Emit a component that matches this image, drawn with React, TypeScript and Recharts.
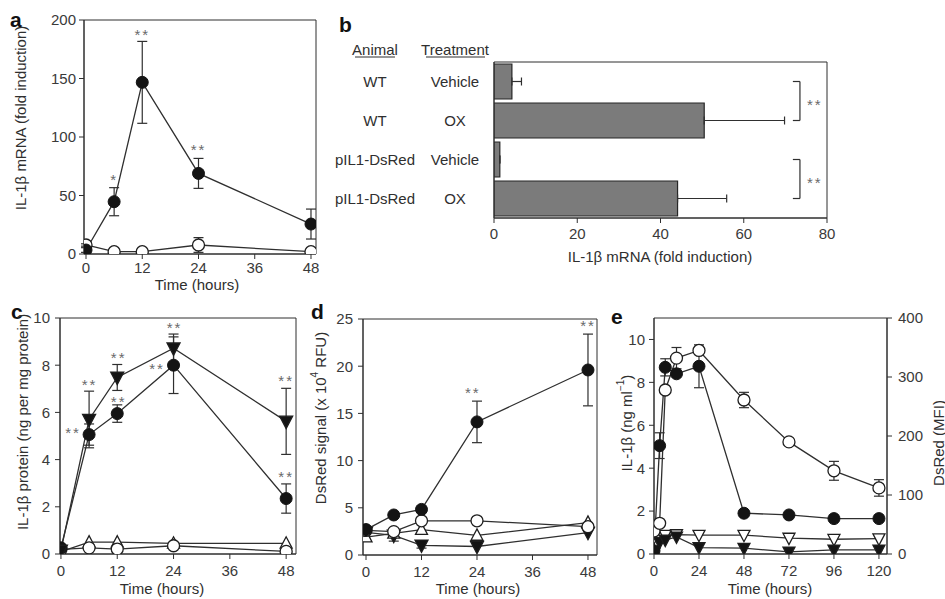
import React from "react";
import {
  ComposedChart,
  BarChart,
  Bar,
  Line,
  XAxis,
  YAxis,
  ErrorBar,
  ReferenceArea,
  ReferenceLine,
} from "recharts";

const FONT = "'Liberation Sans', Arial, Helvetica, sans-serif";
const INK = "#2f2f2f";
const TICK_INK = "#3a3a3a";
const STAR_INK = "#6a6a6a";

// ---------- a: IL-1β mRNA after OX (fold induction) ----------
const hoursA = [0, 6, 12, 24, 48];
const aOxMean = [3.4, 44.7, 146.7, 68.9, 25.6];
const aOxErr = [2, 12, 35, 12.8, 12.8];
const aVehMean = [7.7, 2, 2, 7.7, 2];
const aVehErr = [1, 0.5, 0.5, 6.3, 0.5];
const aStarHours = [6, 12, 24];
const aStarValue = [66, 190, 92];
const aStarText = ["*", "**", "**"];
const aTicksY = [0, 50, 100, 150, 200];

// ---------- b: bars ----------
const bAnimal = ["WT", "WT", "pIL1-DsRed", "pIL1-DsRed"];
const bTreatment = ["Vehicle", "OX", "Vehicle", "OX"];
const bMean = [4.3, 50.5, 1.4, 44.1];
const bErr = [2.3, 19.3, 0, 11.8];
const bTicksX = [0, 20, 40, 60, 80];

// ---------- c: IL-1β protein ----------
const hoursC = [0, 6, 12, 24, 48];
const cTriFilled = [0.15, 5.7, 7.48, 8.72, 5.62];
const cTriFilledErr = [0, 1.2, 0.55, 0.6, 1.4];
const cCircFilled = [0.26, 5.06, 5.95, 8.0, 2.35];
const cCircFilledErr = [0, 0.45, 0.37, 1.2, 0.62];
const cTriOpen = [0.1, 0.5, 0.5, 0.45, 0.45];
const cCircOpen = [0.2, 0.26, 0.21, 0.35, 0.11];
const cStarHours = [6.1, 2.6, 12.3, 12.3, 24.2, 20.5, 48, 48];
const cStarValue = [7.33, 5.27, 8.44, 6.61, 9.73, 7.97, 7.47, 3.42];
const cTicksY = [0, 2, 4, 6, 8, 10];

// ---------- d: DsRed signal ----------
const hoursD = [0, 6, 12, 24, 48];
const dCircFilled = [2.69, 4.24, 4.83, 14.1, 19.6];
const dCircFilledErr = [0, 0, 0, 2.2, 3.8];
const dCircOpen = [2.6, 2.48, 3.62, 3.62, 3.0];
const dTriOpen = [1.9, 2.3, 2.69, 2.07, 3.44];
const dTriFilled = [2.4, 2.07, 1.03, 0.9, 2.38];
const dTriFilledErr = [0, 0.6, 0.3, 0, 0];
const dStarHours = [23.1, 48];
const dStarValue = [17.5, 24.6];
const dTicksY = [0, 5, 10, 15, 20, 25];

// ---------- e: IL-1β (left) and DsRed MFI (right) ----------
const hoursE = [0, 3, 6, 12, 24, 48, 72, 96, 120];
const eIl1b = [0.15, 5.05, 8.7, 8.4, 8.75, 1.9, 1.82, 1.65, 1.65];
const eIl1bErr = [0, 0.6, 0.4, 0, 1.0, 0, 0, 0, 0];
const eIl1bCtrl = [0.05, 0.55, 0.65, 0.8, 0.3, 0.27, 0.1, 0.19, 0.19];
const eDsRed = [39, 52, 278, 332, 345, 261, 190, 141, 112];
const eDsRedErr = [0, 0, 0, 18, 0, 13, 0, 16, 14];
const eDsRedCtrl = [28, 30, 32, 33, 32, 32, 27, 25, 26];
const eTicksX = [0, 24, 48, 72, 96, 120];
const eTicksLeft = [0, 2, 4, 6, 8, 10];
const eTicksRight = [0, 100, 200, 300, 400];

const hourTicks = [0, 12, 24, 36, 48];

const tableA = hoursA.map((t, i) => ({ t, ox: aOxMean[i], oxErr: aOxErr[i], veh: aVehMean[i], vehErr: aVehErr[i] }));
const starsA = aStarHours.map((t, i) => ({ t, v: aStarValue[i], text: aStarText[i] }));

const tableB = bAnimal.map((a, i) => ({
  key: `${a}-${bTreatment[i]}`,
  mean: bMean[i],
  err: [0, bErr[i]],
}));

const tableC = hoursC.map((t, i) => ({
  t,
  triF: cTriFilled[i],
  triFErr: cTriFilledErr[i],
  circF: cCircFilled[i],
  circFErr: cCircFilledErr[i],
  triO: cTriOpen[i],
  circO: cCircOpen[i],
}));
const starsC = cStarHours.map((t, i) => ({ t, v: cStarValue[i], text: "**" }));

const tableD = hoursD.map((t, i) => ({
  t,
  circF: dCircFilled[i],
  circFErr: dCircFilledErr[i],
  circO: dCircOpen[i],
  triO: dTriOpen[i],
  triF: dTriFilled[i],
  triFErr: dTriFilledErr[i],
}));
const starsD = dStarHours.map((t, i) => ({ t, v: dStarValue[i], text: "**" }));

const tableE = hoursE.map((t, i) => ({
  t,
  il: eIl1b[i],
  ilErr: eIl1bErr[i],
  ilCtrl: eIl1bCtrl[i],
  ds: eDsRed[i],
  dsErr: eDsRedErr[i],
  dsCtrl: eDsRedCtrl[i],
}));

// marker shapes
type Kind = "fc" | "oc" | "ftd" | "otu" | "otd";

function marker(kind: Kind, r = 6) {
  return (p: any) => {
    const { cx, cy, index } = p;
    if (cx == null || cy == null) return <g key={`n${index}`} />;
    const k = `${kind}${index}`;
    if (kind === "fc")
      return <circle key={k} cx={cx} cy={cy} r={r} fill="#141414" stroke="#141414" strokeWidth={1} />;
    if (kind === "oc")
      return <circle key={k} cx={cx} cy={cy} r={r} fill="#fff" stroke="#1e1e1e" strokeWidth={1.3} />;
    const up = kind === "otu";
    const pts = up
      ? `${cx - r},${cy + r * 0.8} ${cx + r},${cy + r * 0.8} ${cx},${cy - r * 1.1}`
      : `${cx - r},${cy - r * 0.8} ${cx + r},${cy - r * 0.8} ${cx},${cy + r * 1.1}`;
    return (
      <polygon
        key={k}
        points={pts}
        fill={kind === "ftd" ? "#141414" : "#fff"}
        stroke="#1e1e1e"
        strokeWidth={1.3}
        strokeLinejoin="miter"
      />
    );
  };
}

function starDot(p: any) {
  const { cx, cy, index, payload } = p;
  if (cx == null || cy == null) return <g key={`s${index}`} />;
  return (
    <text
      key={`s${index}`}
      x={cx}
      y={cy + 8.5}
      textAnchor="middle"
      fontSize={15}
      fill={STAR_INK}
      letterSpacing={2}
      style={{ fontFamily: FONT }}
    >
      {payload.text}
    </text>
  );
}

const lineStyle = { stroke: INK, strokeWidth: 1.3, isAnimationActive: false, activeDot: false as const, type: "linear" as const };
const errStyle = { stroke: INK, strokeWidth: 1.2, width: 5 };
const tickFont = { fontSize: 15, fill: TICK_INK, fontFamily: FONT };

function xAxisProps(domain: number[], ticks: number[], margin: number) {
  return {
    type: "number" as const,
    dataKey: "t",
    domain,
    ticks,
    allowDataOverflow: true,
    height: 30,
    tickSize: 5,
    tickMargin: margin,
    axisLine: { stroke: INK },
    tickLine: { stroke: INK },
    tick: tickFont,
  };
}

function yAxisProps(domain: number[], ticks: number[], margin: number) {
  return {
    type: "number" as const,
    domain,
    ticks,
    allowDataOverflow: true,
    width: 40,
    tickSize: 5,
    tickMargin: margin,
    axisLine: { stroke: INK },
    tickLine: { stroke: INK },
    tick: tickFont,
  };
}

function PanelA() {
  const dom = [-0.43, 49.07];
  return (
    <div style={{ position: "absolute", left: 0, top: 0 }}>
      <ComposedChart width={330} height={300} data={tableA} margin={{ top: 20, right: 14, bottom: 16, left: 44 }}>
        <XAxis {...xAxisProps(dom, hourTicks, 3)} />
        <YAxis {...yAxisProps([0, 200], aTicksY, 3)} />
        <ReferenceArea x1={dom[0]} x2={dom[1]} fill="none" stroke={INK} strokeWidth={1} ifOverflow="visible" />
        <Line dataKey="veh" {...lineStyle} dot={marker("oc")}>
          <ErrorBar dataKey="vehErr" direction="y" {...errStyle} />
        </Line>
        <Line dataKey="ox" {...lineStyle} dot={marker("fc")}>
          <ErrorBar dataKey="oxErr" direction="y" {...errStyle} />
        </Line>
        <Line data={starsA} dataKey="v" stroke="none" dot={starDot} isAnimationActive={false} activeDot={false} />
      </ComposedChart>
    </div>
  );
}

function bTick(p: any) {
  const i = tableB.findIndex((r) => r.key === p.payload.value);
  return (
    <g key={`bt${i}`}>
      <text x={45} y={p.y + 5.5} textAnchor="middle" fontSize={15} fill={INK} style={{ fontFamily: FONT }}>
        {bAnimal[i]}
      </text>
      <text x={125} y={p.y + 5.5} textAnchor="middle" fontSize={15} fill={INK} style={{ fontFamily: FONT }}>
        {bTreatment[i]}
      </text>
    </g>
  );
}

function bracket(top: string, bottom: string) {
  const xv = 73.5;
  const xl = 71.8;
  return [
    <ReferenceLine
      key={`v${top}`}
      segment={[{ x: xv, y: top }, { x: xv, y: bottom }]}
      stroke={INK}
      strokeWidth={1.2}
      ifOverflow="visible"
      label={{ value: "**", position: "right", offset: 7, fill: STAR_INK, fontSize: 15, dy: 4, letterSpacing: 2 }}
    />,
    <ReferenceLine key={`t${top}`} segment={[{ x: xl, y: top }, { x: xv, y: top }]} stroke={INK} strokeWidth={1.2} ifOverflow="visible" />,
    <ReferenceLine key={`b${top}`} segment={[{ x: xl, y: bottom }, { x: xv, y: bottom }]} stroke={INK} strokeWidth={1.2} ifOverflow="visible" />,
  ];
}

function PanelB() {
  return (
    <div style={{ position: "absolute", left: 330, top: 0 }}>
      <BarChart
        width={615}
        height={300}
        data={tableB}
        layout="vertical"
        barCategoryGap={2}
        margin={{ top: 62, right: 118, bottom: 52, left: 0 }}
      >
        <XAxis
          type="number"
          domain={[0, 80]}
          ticks={bTicksX}
          allowDataOverflow
          height={30}
          tickSize={5}
          tickMargin={5}
          axisLine={{ stroke: INK }}
          tickLine={{ stroke: INK }}
          tick={tickFont}
        />
        <YAxis type="category" dataKey="key" width={164} tickLine={false} axisLine={{ stroke: INK }} tick={bTick} />
        <ReferenceArea x1={0} x2={80} fill="none" stroke={INK} strokeWidth={1} ifOverflow="visible" />
        <Bar dataKey="mean" fill="#7b7b7b" stroke="#262626" strokeWidth={1.2} isAnimationActive={false}>
          <ErrorBar dataKey="err" direction="x" stroke={INK} strokeWidth={1.2} width={4} />
        </Bar>
        {bracket(tableB[0].key, tableB[1].key)}
        {bracket(tableB[2].key, tableB[3].key)}
      </BarChart>
    </div>
  );
}

function PanelC() {
  const dom = [-0.2, 50.1];
  return (
    <div style={{ position: "absolute", left: 0, top: 300 }}>
      <ComposedChart width={310} height={299} data={tableC} margin={{ top: 18, right: 14, bottom: 15, left: 20 }}>
        <XAxis {...xAxisProps(dom, hourTicks, 6)} />
        <YAxis {...yAxisProps([0, 10], cTicksY, 5)} />
        <ReferenceArea x1={dom[0]} x2={dom[1]} fill="none" stroke={INK} strokeWidth={1} ifOverflow="visible" />
        <Line dataKey="triO" {...lineStyle} dot={marker("otu")} />
        <Line dataKey="circO" {...lineStyle} dot={marker("oc")} />
        <Line dataKey="circF" {...lineStyle} dot={marker("fc")}>
          <ErrorBar dataKey="circFErr" direction="y" {...errStyle} />
        </Line>
        <Line dataKey="triF" {...lineStyle} dot={marker("ftd", 6.5)}>
          <ErrorBar dataKey="triFErr" direction="y" {...errStyle} />
        </Line>
        <Line data={starsC} dataKey="v" stroke="none" dot={starDot} isAnimationActive={false} activeDot={false} />
      </ComposedChart>
    </div>
  );
}

function PanelD() {
  const dom = [-0.65, 49.95];
  return (
    <div style={{ position: "absolute", left: 310, top: 300 }}>
      <ComposedChart width={300} height={299} data={tableD} margin={{ top: 19, right: 13, bottom: 14, left: 13 }}>
        <XAxis {...xAxisProps(dom, hourTicks, 6)} />
        <YAxis {...yAxisProps([0, 25], dTicksY, 5)} />
        <ReferenceArea x1={dom[0]} x2={dom[1]} fill="none" stroke={INK} strokeWidth={1} ifOverflow="visible" />
        <Line dataKey="triF" {...lineStyle} dot={marker("ftd", 6.5)}>
          <ErrorBar dataKey="triFErr" direction="y" {...errStyle} />
        </Line>
        <Line dataKey="triO" {...lineStyle} dot={marker("otu")} />
        <Line dataKey="circO" {...lineStyle} dot={marker("oc")} />
        <Line dataKey="circF" {...lineStyle} dot={marker("fc")}>
          <ErrorBar dataKey="circFErr" direction="y" {...errStyle} />
        </Line>
        <Line data={starsD} dataKey="v" stroke="none" dot={starDot} isAnimationActive={false} activeDot={false} />
      </ComposedChart>
    </div>
  );
}

function PanelE() {
  const dom = [0, 124.3];
  return (
    <div style={{ position: "absolute", left: 600, top: 300 }}>
      <ComposedChart width={345} height={299} data={tableE} margin={{ top: 18, right: 18, bottom: 15, left: 14 }}>
        <XAxis {...xAxisProps(dom, eTicksX, 6)} />
        <YAxis yAxisId="l" orientation="left" {...yAxisProps([0, 11], eTicksLeft, 4)} />
        <YAxis yAxisId="r" orientation="right" {...yAxisProps([0, 400], eTicksRight, 6)} />
        <ReferenceArea yAxisId="l" x1={dom[0]} x2={dom[1]} fill="none" stroke={INK} strokeWidth={1} ifOverflow="visible" />
        <Line yAxisId="r" dataKey="dsCtrl" {...lineStyle} dot={marker("otd", 6)} />
        <Line yAxisId="l" dataKey="ilCtrl" {...lineStyle} dot={marker("ftd", 6)} />
        <Line yAxisId="r" dataKey="ds" {...lineStyle} dot={marker("oc")}>
          <ErrorBar dataKey="dsErr" direction="y" {...errStyle} />
        </Line>
        <Line yAxisId="l" dataKey="il" {...lineStyle} dot={marker("fc")}>
          <ErrorBar dataKey="ilErr" direction="y" {...errStyle} />
        </Line>
      </ComposedChart>
    </div>
  );
}

function VText({ x, y, children }: { x: number; y: number; children: React.ReactNode }) {
  return (
    <text x={x} y={y} transform={`rotate(-90 ${x} ${y})`} textAnchor="middle" dominantBaseline="central" fontSize={15} fill={INK}>
      {children}
    </text>
  );
}

function Overlay() {
  const letter = { fontSize: 21, fontWeight: 700, fill: "#111" };
  const t = { fontSize: 15, fill: INK, textAnchor: "middle" as const };
  return (
    <svg width={945} height={599} style={{ position: "absolute", left: 0, top: 0, pointerEvents: "none", fontFamily: FONT }}>
      <text x={10} y={27} {...letter}>a</text>
      <text x={339} y={32} {...letter}>b</text>
      <text x={11} y={319} {...letter}>c</text>
      <text x={311} y={319} {...letter}>d</text>
      <text x={611} y={324} {...letter}>e</text>

      <VText x={20} y={118}>IL-1β mRNA (fold induction)</VText>
      <text x={197} y={290} {...t}>Time (hours)</text>

      <text x={375} y={55} {...t}>Animal</text>
      <line x1={355} x2={395} y1={57} y2={57} stroke={INK} strokeWidth={1} />
      <text x={455} y={55} {...t}>Treatment</text>
      <line x1={426} x2={485} y1={57} y2={57} stroke={INK} strokeWidth={1} />
      <text x={660} y={262} {...t}>IL-1β mRNA (fold induction)</text>

      <VText x={22} y={422}>IL-1β protein (ng per mg protein)</VText>
      <text x={162} y={594} {...t}>Time (hours)</text>

      <VText x={320} y={418}>
        <tspan>DsRed signal (x 10</tspan>
        <tspan dy={-6} fontSize={10}>4</tspan>
        <tspan dy={6}> RFU)</tspan>
      </VText>
      <text x={478} y={594} {...t}>Time (hours)</text>

      <VText x={626} y={423}>
        <tspan>IL-1β (ng ml</tspan>
        <tspan dy={-6} fontSize={10}>−1</tspan>
        <tspan dy={6}>)</tspan>
      </VText>
      <VText x={938} y={443}>DsRed (MFI)</VText>
      <text x={770} y={594} {...t}>Time (hours)</text>
    </svg>
  );
}

export default function App() {
  return (
    <div style={{ position: "absolute", left: 0, top: 0, width: 945, height: 599, background: "#fff", fontFamily: FONT }}>
      <PanelA />
      <PanelB />
      <PanelC />
      <PanelD />
      <PanelE />
      <Overlay />
    </div>
  );
}
